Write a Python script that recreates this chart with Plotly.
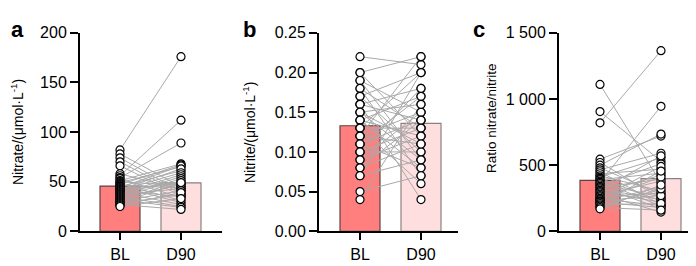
import plotly.graph_objects as go

groups = ["BL", "D90"]

# Panel a: nitrate (µmol/L), paired by index
nitrate_bl = [82, 78, 74, 70, 66, 58, 56, 54, 53, 51, 50, 49, 48, 47, 46, 45, 45, 44, 43, 42,
              41, 41, 40, 39, 38, 37, 36, 35, 34, 33, 32, 31, 30, 29, 28, 27, 26, 25]
nitrate_d90 = [176, 45, 40, 38, 36, 42, 112, 89, 34, 68, 46, 65, 31, 67, 44, 61, 29, 66, 48, 63,
               35, 59, 50, 27, 57, 43, 55, 25, 53, 47, 24, 51, 41, 49, 37, 22, 39, 33]
nitrate_means = [45.6, 48.8]

# Panel b: nitrite (µmol/L)
nitrite_bl = [0.22, 0.20, 0.20, 0.19, 0.19, 0.18, 0.18, 0.17, 0.17, 0.16, 0.16, 0.16, 0.15, 0.15,
              0.15, 0.14, 0.14, 0.14, 0.13, 0.13, 0.13, 0.12, 0.12, 0.12, 0.11, 0.11, 0.11, 0.10,
              0.10, 0.10, 0.09, 0.09, 0.08, 0.08, 0.07, 0.07, 0.05, 0.04]
nitrite_d90 = [0.21, 0.12, 0.22, 0.09, 0.15, 0.07, 0.13, 0.10, 0.20, 0.04, 0.14, 0.18, 0.11, 0.09,
               0.16, 0.08, 0.17, 0.12, 0.20, 0.06, 0.13, 0.15, 0.11, 0.22, 0.14, 0.08, 0.17, 0.13,
               0.10, 0.18, 0.12, 0.15, 0.11, 0.14, 0.09, 0.20, 0.07, 0.16]
nitrite_means = [0.133, 0.136]

# Panel c: ratio nitrate/nitrite
ratio_bl = [1110, 905, 820, 545, 520, 500, 480, 465, 450, 435, 420, 410, 400, 390, 380, 370, 360,
            350, 340, 330, 320, 310, 300, 290, 280, 270, 260, 250, 245, 240, 230, 225, 220, 210,
            200, 190, 180, 170]
ratio_d90 = [365, 530, 1365, 720, 250, 735, 280, 590, 200, 470, 305, 555, 230, 440, 190, 945, 260,
             510, 170, 395, 240, 570, 220, 425, 145, 380, 290, 490, 195, 410, 270, 335, 180, 455,
             210, 320, 160, 350]
ratio_means = [385, 398]

y_titles = ["Nitrate/(μmol·L<sup>-1</sup>)", "Nitrite/(μmol·L<sup>-1</sup>)", "Ratio nitrate/nitrite"]
panel_labels = ["a", "b", "c"]

y_ranges = [[0, 200], [0, 0.25], [0, 1500]]
y_tickvals = [[0, 50, 100, 150, 200], [0, 0.05, 0.10, 0.15, 0.20, 0.25], [0, 500, 1000, 1500]]
y_ticktext = [["0", "50", "100", "150", "200"],
              ["0.00", "0.05", "0.10", "0.15", "0.20", "0.25"],
              ["0", "500", "1 000", "1 500"]]

W, H = 696, 266
FONT = "Liberation Sans, Arial, Helvetica, sans-serif"
bar_colors = ["#FF7F7F", "#FFDEE0"]
bar_lines = ["#5A4444", "#8A8080"]

# pixel geometry: (y-axis x, BL tick x, right end x)
geom = [(72, 112, 214), (311, 352, 450), (551, 592, 694)]
unit = 61.0
y_bottom, y_top = 230, 18

data_sets = [(nitrate_bl, nitrate_d90, nitrate_means),
             (nitrite_bl, nitrite_d90, nitrite_means),
             (ratio_bl, ratio_d90, ratio_means)]

fig = go.Figure()
layout = dict(
    width=W, height=H, margin=dict(l=0, r=0, t=0, b=0),
    paper_bgcolor="white", plot_bgcolor="white", showlegend=False,
    font=dict(family=FONT, color="black", size=16),
)
annotations = []
title_x = [9, 241, 483]
title_y = [124, 124, 109]
title_size = [14, 14, 13.5]
label_x = [9, 241, 471]

for i, (bl, d90, means) in enumerate(data_sets):
    xa = "x" if i == 0 else f"x{i+1}"
    ya = "y" if i == 0 else f"y{i+1}"
    ax0, tick0, ax1 = geom[i]
    rng = [-(tick0 - ax0) / unit, (ax1 - tick0) / unit]
    fig.add_trace(go.Bar(
        x=[0, 1], y=means, width=40 / unit,
        marker=dict(color=bar_colors, line=dict(color=bar_lines, width=1.2)),
        xaxis=xa, yaxis=ya, hoverinfo="skip"))
    lx, ly = [], []
    for a, b in zip(bl, d90):
        lx += [0, 1, None]
        ly += [a, b, None]
    fig.add_trace(go.Scatter(x=lx, y=ly, mode="lines",
                             line=dict(color="#A9A9A9", width=1),
                             xaxis=xa, yaxis=ya, hoverinfo="skip"))
    fig.add_trace(go.Scatter(
        x=[0] * len(bl) + [1] * len(d90), y=list(bl) + list(d90), mode="markers",
        marker=dict(symbol="circle", size=8, color="white",
                    line=dict(color="black", width=1.2)),
        xaxis=xa, yaxis=ya, hoverinfo="skip", cliponaxis=False))
    xkey = "xaxis" if i == 0 else f"xaxis{i+1}"
    ykey = "yaxis" if i == 0 else f"yaxis{i+1}"
    layout[xkey] = dict(
        domain=[ax0 / W, ax1 / W], range=rng, anchor=ya,
        tickvals=[0, 1], ticktext=groups, ticks="outside", ticklen=7, tickwidth=2,
        tickcolor="black", showline=True, linecolor="black", linewidth=2,
        showgrid=False, zeroline=False, tickfont=dict(size=16, family=FONT),
        fixedrange=True)
    layout[ykey] = dict(
        domain=[(H - y_bottom) / H, (H - y_top) / H], range=y_ranges[i], anchor=xa,
        tickvals=y_tickvals[i], ticktext=y_ticktext[i], ticks="outside", ticklen=8,
        tickwidth=2, tickcolor="black", showline=True, linecolor="black", linewidth=2,
        showgrid=False, zeroline=False, tickfont=dict(size=16, family=FONT),
        fixedrange=True)
    annotations.append(dict(
        text=y_titles[i], x=title_x[i] / W, y=(H - title_y[i]) / H, xref="paper", yref="paper",
        textangle=-90, showarrow=False, font=dict(size=title_size[i], family=FONT),
        xanchor="center", yanchor="middle"))
    annotations.append(dict(
        text=f"<b>{panel_labels[i]}</b>", x=label_x[i] / W, y=(H - 14) / H,
        xref="paper", yref="paper", showarrow=False,
        font=dict(size=22, family=FONT), xanchor="center", yanchor="middle"))

layout["annotations"] = annotations
fig.update_layout(**layout)
fig.write_html("out.html")
